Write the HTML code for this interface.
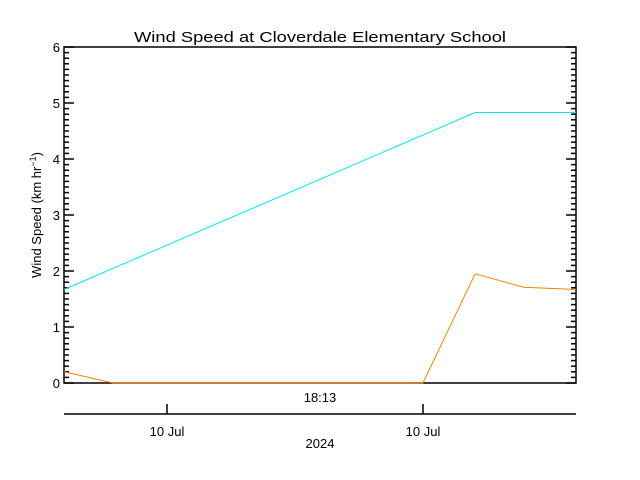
<!DOCTYPE html>
<html><head><meta charset="utf-8"><style>body{margin:0;background:#fff}svg{display:block;font-family:"Liberation Sans",sans-serif}</style></head>
<body>
<svg id="chart" width="640" height="480" viewBox="0 0 640 480" xmlns="http://www.w3.org/2000/svg">
<rect width="640" height="480" fill="#fff"/>
<text x="134" y="42" font-size="15" textLength="372" lengthAdjust="spacingAndGlyphs">Wind Speed at Cloverdale Elementary School</text>
<g id="axes"></g>
<g id="series"></g>
<text transform="translate(41,215) rotate(-90)" text-anchor="middle" font-size="13">Wind Speed (km hr<tspan font-size="9" dy="-5">−1</tspan><tspan dy="5">)</tspan></text>
<text x="320" y="402" text-anchor="middle" font-size="13">18:13</text>
<text x="167" y="436" text-anchor="middle" font-size="13">10 Jul</text>
<text x="423" y="436" text-anchor="middle" font-size="13">10 Jul</text>
<text x="320" y="448" text-anchor="middle" font-size="13">2024</text>
</svg>
<script>
const yTicks = [0,1,2,3,4,5,6];
const timesA = [0, 8.03, 10];
const valuesA = [1.67, 4.83, 4.83];
const timesB = [0, 0.96, 7.01, 8.03, 8.98, 10];
const valuesB = [0.2, 0, 0, 1.95, 1.71, 1.67];
const L=64,R=576,T=47,B=383;
const xs = t => L + t/10*(R-L);
const ys = v => B - v/6*(B-T);
const NS="http://www.w3.org/2000/svg";
function mk(tag, attrs, parent){const e=document.createElementNS(NS,tag);for(const k in attrs)e.setAttribute(k,attrs[k]);parent.appendChild(e);return e;}
const ax=document.getElementById('axes');
const frame=mk('rect',{x:L,y:T,width:R-L,height:B-T,fill:'none',stroke:'#000','stroke-width':1.5},ax);


for(let i=0;i<=60;i++){
  const v=i/10, y=ys(v), len=(i%10===0)?10:5;
  const t1=mk('line',{x1:L,x2:L+len,y1:y,y2:y,stroke:'#000','stroke-width':1.5},ax);
  
  
  const t2=mk('line',{x1:R,x2:R-len,y1:y,y2:y,stroke:'#000','stroke-width':1.5},ax);
  
  
}
yTicks.forEach(v=>{
  const t=mk('text',{x:L-4,y:ys(v)+5,'text-anchor':'end','font-size':13},ax);
  t.textContent=v;
  
  
});
const ta=mk('line',{x1:L,x2:R,y1:414,y2:414,stroke:'#000','stroke-width':1.5},ax);


[167,423].forEach(x=>{
  const t=mk('line',{x1:x,x2:x,y1:414,y2:404,stroke:'#000','stroke-width':1.5},ax);
  
  
});
const s=document.getElementById('series');
const pa=mk('polyline',{points:timesA.map((t,i)=>xs(t)+','+ys(valuesA[i])).join(' '),fill:'none',stroke:'#00e5ee','stroke-width':1},s);


const pb=mk('polyline',{points:timesB.map((t,i)=>xs(t)+','+ys(valuesB[i])).join(' '),fill:'none',stroke:'#ff8000','stroke-width':1},s);


</script>
</body></html>
